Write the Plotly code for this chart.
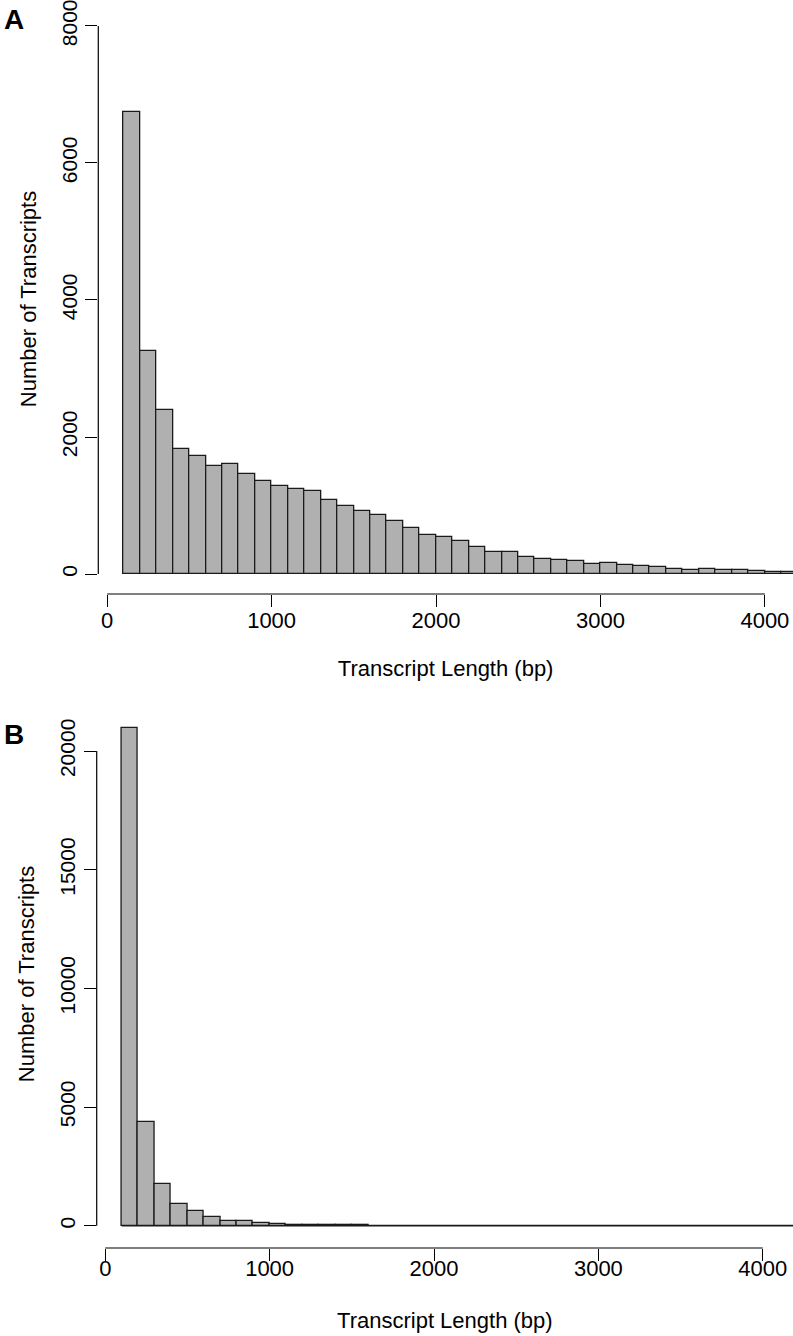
import plotly.graph_objects as go

# histogram bins: left edges (bp), width 100
bin_start = list(range(100, 4200, 100))
bin_width = 100

# panel A counts
counts_a = [6750, 3255, 2390, 1830, 1725, 1570, 1600, 1460, 1362, 1280,
            1236, 1216, 1080, 990, 926, 860, 770, 676, 571, 537,
            478, 396, 327, 317, 244, 215, 210, 190, 147, 156,
            127, 117, 103, 68, 54, 73, 59, 59, 44, 34, 29]

# panel B counts
counts_b = [20980, 4390, 1770, 910, 604, 365, 211, 183, 112, 56,
            30, 22, 16, 12, 10, 8, 7, 6, 5, 5,
            4, 4, 3, 3, 3, 2, 2, 2, 2, 2,
            1, 1, 1, 1, 1, 1, 1, 1, 1, 1, 1]

x_ticks = [0, 1000, 2000, 3000, 4000]
y_ticks_a = [0, 2000, 4000, 6000, 8000]
y_ticks_b = [0, 5000, 10000, 15000, 20000]

W, H = 793, 1336
FONT = "Liberation Sans, Arial, Helvetica, sans-serif"
BAR_FILL = "#b0b0b0"
EDGE = "#1a1a1a"


def py(px):
    # pixel row -> paper fraction
    return 1 - px / H


centers = [s + bin_width / 2 for s in bin_start]

fig = go.Figure()

fig.add_trace(
    go.Bar(
        x=centers,
        y=counts_a,
        width=bin_width,
        marker=dict(color=BAR_FILL, line=dict(color=EDGE, width=1.3)),
        xaxis="x",
        yaxis="y",
        showlegend=False,
    )
)

fig.add_trace(
    go.Bar(
        x=centers,
        y=counts_b,
        width=bin_width,
        marker=dict(color=BAR_FILL, line=dict(color=EDGE, width=1.3)),
        xaxis="x2",
        yaxis="y2",
        showlegend=False,
    )
)

axis_common = dict(
    showgrid=False,
    zeroline=False,
    showline=False,
    ticks="outside",
    ticklen=12,
    tickwidth=1.2,
    tickcolor="black",
    tickfont=dict(family=FONT, size=22, color="black"),
    ticklabeloverflow="allow",
    automargin=False,
)

x_title = dict(text="Transcript Length (bp)", font=dict(family=FONT, size=22))

y_common = dict(
    axis_common,
    tickangle=-90,
    tickformat="d",
    tickfont=dict(family=FONT, size=21, color="black"),
    title=dict(text="Number of Transcripts", standoff=15,
               font=dict(family=FONT, size=22)),
)

fig.update_layout(
    width=W,
    height=H,
    margin=dict(l=0, r=0, t=0, b=0),
    paper_bgcolor="white",
    plot_bgcolor="white",
    bargap=0,
    font=dict(family=FONT, size=22, color="black"),
    xaxis=dict(axis_common, domain=[98.3 / W, 1], range=[-54, 4171], anchor="y",
               tickvals=x_ticks, ticklabelstandoff=-5,
               title=dict(x_title, standoff=28)),
    yaxis=dict(y_common, domain=[py(594), py(4)], range=[-292, 8321],
               tickvals=y_ticks_a, anchor="x"),
    xaxis2=dict(axis_common, domain=[96.7 / W, 1], range=[-52, 4184], anchor="y2",
                tickvals=x_ticks, ticklabelstandoff=-11,
                title=dict(x_title, standoff=32)),
    yaxis2=dict(y_common, domain=[py(1248), py(700)], range=[-940, 22149],
                tickvals=y_ticks_b, anchor="x2"),
)

# R-style axis lines that only span the tick range
line_style = dict(color="black", width=1.2)
for xr, yr, yt in (("x", "y", y_ticks_a), ("x2", "y2", y_ticks_b)):
    fig.add_shape(type="line", xref=xr + " domain", yref=yr,
                  x0=0, x1=0, y0=min(yt), y1=max(yt), line=line_style)
    fig.add_shape(type="line", xref=xr, yref=yr + " domain",
                  x0=min(x_ticks), x1=max(x_ticks), y0=0, y1=0, line=line_style)

# histogram baseline in panel B (tiny bins collapse onto it)
fig.add_shape(type="line", xref="x2", yref="y2",
              x0=bin_start[0], x1=bin_start[-1] + bin_width, y0=0, y1=0,
              line=dict(color=EDGE, width=1.6))

# panel letters
for letter, top in (("A", 2), ("B", 717)):
    fig.add_annotation(
        text=f"<b>{letter}</b>",
        xref="paper", yref="paper",
        x=2 / W, y=py(top),
        xanchor="left", yanchor="top",
        showarrow=False,
        font=dict(family=FONT, size=28, color="black"),
    )

fig.write_html(
    "out.html",
    config={"displayModeBar": False},
    post_script="document.body.style.margin='0';document.body.style.overflow='hidden';",
)
